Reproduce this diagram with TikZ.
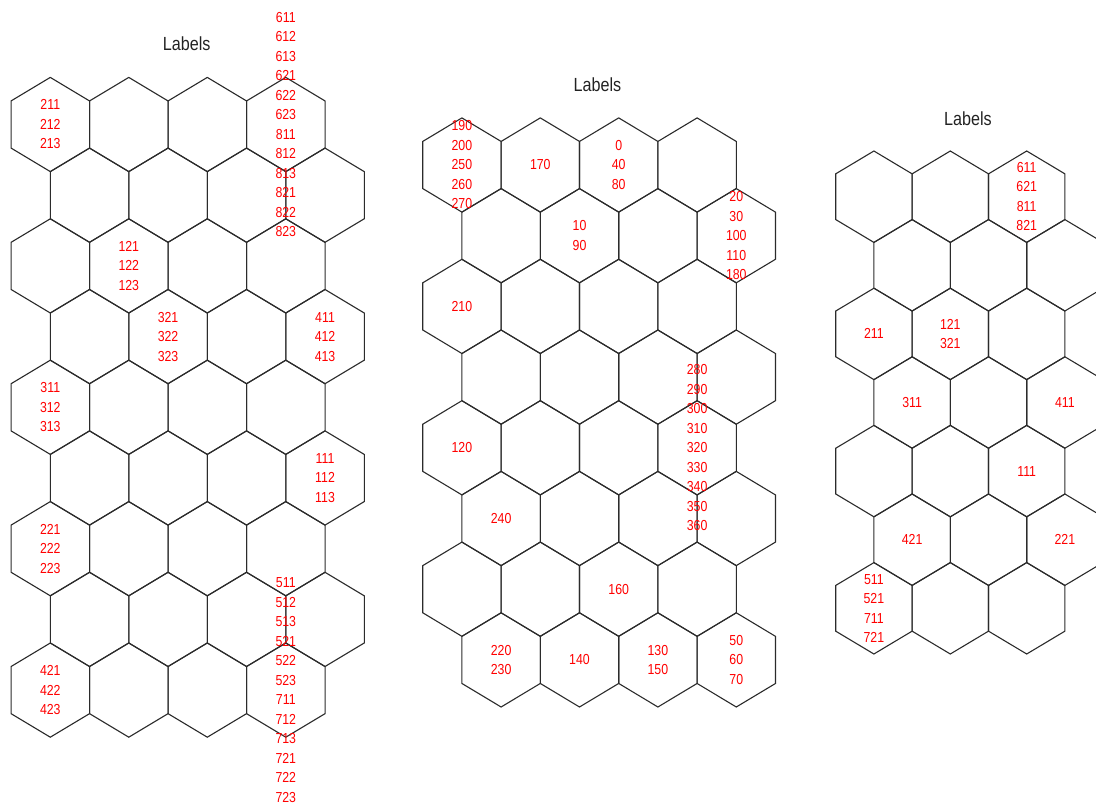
\documentclass[tikz,border=0pt]{standalone}
\usepackage{fontspec}
\newfontfamily\lblfont[FakeStretch=0.85]{Liberation Sans}
\definecolor{border}{HTML}{2B2B2B}
\definecolor{textCol}{HTML}{222222}
\definecolor{labelRed}{HTML}{FF0000}
\tikzset{
  hexline/.style={draw=border, line width=1.1pt, line join=miter},
  pics/hexcell/.style args={#1/#2}{
    code={\draw[hexline] (-#1,-#2/2) -- (0,-#2) -- (#1,-#2/2) -- (#1,#2/2) -- (0,#2) -- (-#1,#2/2) -- cycle;}
  },
  gridtitle/.style={font=\lblfont\fontsize{19}{22}\selectfont, text=textCol, inner sep=0pt},
  hitlabel/.style={font=\lblfont\fontsize{14.5}{19.5}\selectfont, text=labelRed, align=center, inner sep=0pt},
}

\begin{document}
\begin{tikzpicture}[x=1pt, y=-1pt]

  \useasboundingbox (0,0) rectangle (1096,806);
  \clip (0,0) rectangle (1096,806);

  % Map 1 (4 x 9)
  \foreach \r in {0,...,8} {
    \foreach \c in {0,...,3} {
      \pgfmathsetmacro{\cx}{50.3+78.5*\c+39.25*mod(\r,2)}
      \pgfmathsetmacro{\cy}{124.5+70.7*\r}
      \coordinate (a-\r-\c) at (\cx,\cy);
      \pic at (a-\r-\c) {hexcell=39.25/47.1};
    }
  }
  \node[gridtitle] (ta) at (186.7,44) {Labels};

  \node[hitlabel] (a211) at (a-0-0) {211\\212\\213};
  \node[hitlabel] (a611) at (a-0-3) {611\\612\\613\\621\\622\\623\\811\\812\\813\\821\\822\\823};
  \node[hitlabel] (a121) at (a-2-1) {121\\122\\123};
  \node[hitlabel] (a321) at (a-3-1) {321\\322\\323};
  \node[hitlabel] (a411) at (a-3-3) {411\\412\\413};
  \node[hitlabel] (a311) at (a-4-0) {311\\312\\313};
  \node[hitlabel] (a111) at (a-5-3) {111\\112\\113};
  \node[hitlabel] (a221) at (a-6-0) {221\\222\\223};
  \node[hitlabel] (a421) at (a-8-0) {421\\422\\423};
  \node[hitlabel] (a511) at (a-8-3) {511\\512\\513\\521\\522\\523\\711\\712\\713\\721\\722\\723};

  % Map 2 (4 x 8)
  \foreach \r in {0,...,7} {
    \foreach \c in {0,...,3} {
      \pgfmathsetmacro{\cx}{461.9+78.4*\c+39.2*mod(\r,2)}
      \pgfmathsetmacro{\cy}{165+70.7*\r}
      \coordinate (b-\r-\c) at (\cx,\cy);
      \pic at (b-\r-\c) {hexcell=39.2/47.1};
    }
  }
  \node[gridtitle] (tb) at (597.5,85) {Labels};

  \node[hitlabel] (b190) at (b-0-0) {190\\200\\250\\260\\270};
  \node[hitlabel] (b170) at (b-0-1) {170};
  \node[hitlabel] (b0)   at (b-0-2) {0\\40\\80};
  \node[hitlabel] (b10)  at (b-1-1) {10\\90};
  \node[hitlabel] (b20)  at (b-1-3) {20\\30\\100\\110\\180};
  \node[hitlabel] (b210) at (b-2-0) {210};
  \node[hitlabel] (b120) at (b-4-0) {120};
  \node[hitlabel] (b280) at (b-4-3) {280\\290\\300\\310\\320\\330\\340\\350\\360};
  \node[hitlabel] (b240) at (b-5-0) {240};
  \node[hitlabel] (b160) at (b-6-2) {160};
  \node[hitlabel] (b220) at (b-7-0) {220\\230};
  \node[hitlabel] (b140) at (b-7-1) {140};
  \node[hitlabel] (b130) at (b-7-2) {130\\150};
  \node[hitlabel] (b50)  at (b-7-3) {50\\60\\70};

  % Map 3 (3 x 7)
  \foreach \r in {0,...,6} {
    \foreach \c in {0,...,2} {
      \pgfmathsetmacro{\cx}{873.9+76.4*\c+38.2*mod(\r,2)}
      \pgfmathsetmacro{\cy}{196.7+68.6*\r}
      \coordinate (c-\r-\c) at (\cx,\cy);
      \pic at (c-\r-\c) {hexcell=38.2/45.7};
    }
  }
  \node[gridtitle] (tc) at (968,119) {Labels};

  \node[hitlabel] (c611) at (c-0-2) {611\\621\\811\\821};
  \node[hitlabel] (c211) at (c-2-0) {211};
  \node[hitlabel] (c121) at (c-2-1) {121\\321};
  \node[hitlabel] (c311) at (c-3-0) {311};
  \node[hitlabel] (c411) at (c-3-2) {411};
  \node[hitlabel] (c111) at (c-4-2) {111};
  \node[hitlabel] (c421) at (c-5-0) {421};
  \node[hitlabel] (c221) at (c-5-2) {221};
  \node[hitlabel] (c511) at (c-6-0) {511\\521\\711\\721};

\end{tikzpicture}
\end{document}
